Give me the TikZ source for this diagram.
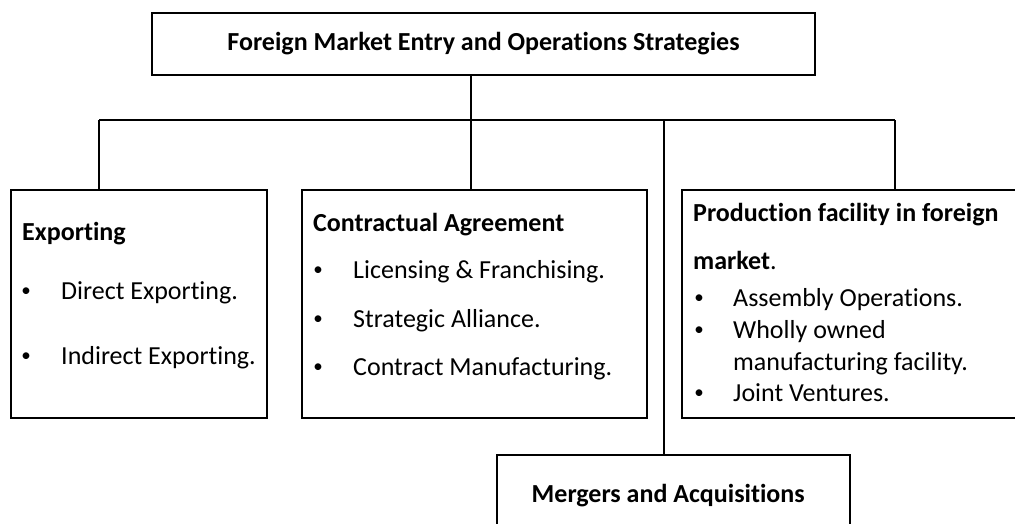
\documentclass[tikz,border=0pt]{standalone}
\usepackage{fontspec}
\setmainfont{Carlito}[Ligatures=NoCommon]
\newcommand{\smallbul}{\raisebox{2.5pt}{\fontsize{19}{20}\selectfont\textbullet}}
\begin{document}
\begin{tikzpicture}[x=1pt,y=-1pt,
  every node/.style={font=\fontsize{26}{31}\selectfont},
  box/.style={draw,line width=2pt,inner sep=0pt},
  txt/.style={anchor=base west,inner sep=0pt},
  head/.style={txt,font=\fontsize{26}{31}\selectfont\bfseries},
  bul/.style={anchor=base,inner sep=0pt},
  link/.style={line width=2pt}]
\useasboundingbox (0,0) rectangle (1015,523);

% boxes
\node[box,minimum width=663pt,minimum height=62pt] (top) at (483.5,44)
  {\bfseries Foreign Market Entry and Operations Strategies};
\node[box,minimum width=256pt,minimum height=228pt] (exp) at (139,304) {};
\node[box,minimum width=345pt,minimum height=228pt] (con) at (474.5,304) {};
\node[box,minimum width=343pt,minimum height=228pt] (prod) at (853.5,304) {};
\node[box,minimum width=353pt,minimum height=90pt] (mer) at (673.5,500) {};
\node[head] (merT) at (531.5,502) {Mergers and Acquisitions};

% exporting
\node[head] (expH) at (22,240) {Exporting};
\node[bul] (expB1) at (26,299) {\smallbul};
\node[txt] (expT1) at (61,299) {Direct Exporting.};
\node[bul] (expB2) at (26,364) {\smallbul};
\node[txt] (expT2) at (61,364) {Indirect Exporting.};

% contractual agreement
\node[head] (conH) at (313,231) {Contractual Agreement};
\node[bul] (conB1) at (318,278) {\smallbul};
\node[txt] (conT1) at (353,278) {Licensing \& Franchising.};
\node[bul] (conB2) at (318,327) {\smallbul};
\node[txt] (conT2) at (353,327) {Strategic Alliance.};
\node[bul] (conB3) at (318,375) {\smallbul};
\node[txt] (conT3) at (353,375) {Contract Manufacturing.};

% production facility
\node[head] (prodH1) at (693,221) {Production facility in foreign};
\node[txt] (prodH2) at (693,269) {\textbf{market}.};
\node[bul] (prodB1) at (699,306) {\smallbul};
\node[txt] (prodT1) at (733,306) {Assembly Operations.};
\node[bul] (prodB2) at (699,338) {\smallbul};
\node[txt] (prodT2) at (733,338) {Wholly owned};
\node[txt] (prodT3) at (733,370) {manufacturing facility.};
\node[bul] (prodB3) at (699,401) {\smallbul};
\node[txt] (prodT4) at (733,401) {Joint Ventures.};

% connectors
\coordinate (hub) at (471,120);
\coordinate (busL) at (99,120);
\coordinate (busR) at (895,120);
\coordinate (busM) at (664,120);
\draw[link] (top.south -| hub) -- (hub);
\draw[link] (busL) -- (busR);
\draw[link] (busL) -- (busL |- exp.north);
\draw[link] (hub) -- (hub |- con.north);
\draw[link] (busR) -- (busR |- prod.north);
\draw[link] (busM) -- (busM |- mer.north);
\end{tikzpicture}
\end{document}
